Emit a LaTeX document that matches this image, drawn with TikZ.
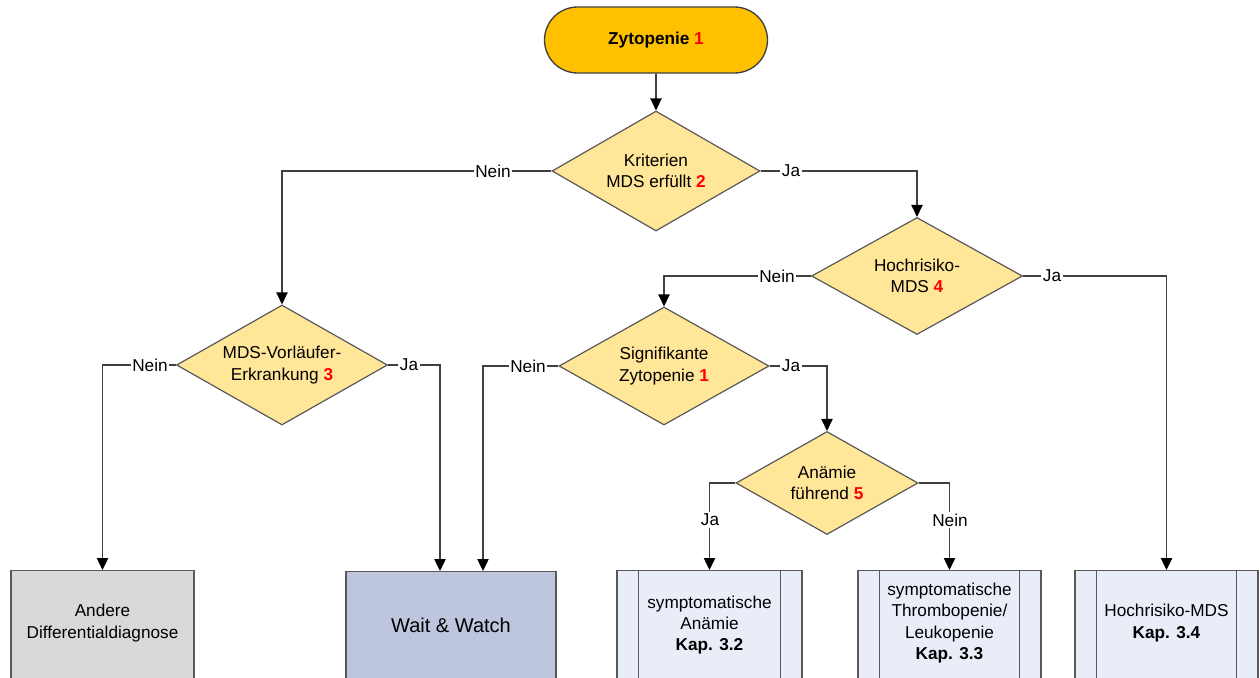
\documentclass[tikz,border=0pt]{standalone}
\usepackage{fontspec}
\setmainfont{Liberation Sans}
\usetikzlibrary{shapes.geometric,arrows.meta,calc}
\definecolor{termfill}{RGB}{255,192,0}
\definecolor{diafill}{RGB}{255,230,153}
\definecolor{grayfill}{RGB}{217,217,217}
\definecolor{wwfill}{RGB}{190,198,222}
\definecolor{subfill}{RGB}{233,237,247}
\definecolor{edgegray}{RGB}{89,89,89}
\definecolor{linegray}{RGB}{64,64,64}
\definecolor{numred}{RGB}{255,0,0}
\newcommand\rednum[1]{\textbf{\textcolor{numred}{#1}}}
\begin{document}
\begin{tikzpicture}[x=0.75pt,y=-0.75pt,
  basefont/.style={font=\fontsize{12.9}{16}\selectfont},
  term/.style={basefont,draw=linegray,line width=1pt,fill=termfill,rectangle,rounded corners=24.75pt,minimum width=167.25pt,minimum height=49.5pt,align=center},
  dia/.style={basefont,draw=edgegray,line width=0.9pt,fill=diafill,diamond,shape aspect=1.75,inner sep=0pt,align=center},
  boxbase/.style={draw=edgegray,line width=1pt,rectangle,minimum height=90pt,anchor=north,inner sep=0pt},
  boxgray/.style={boxbase,fill=grayfill},
  boxww/.style={boxbase,fill=wwfill},
  boxsub/.style={boxbase,fill=subfill},
  txt/.style={basefont,align=center,inner sep=0pt},
  lab/.style={basefont,fill=white,inner sep=1.2pt},
  arr/.style={draw=linegray,line width=1pt,-{Triangle[width=8.5pt,length=9pt,fill=black,color=black]}},
  subline/.style={draw=edgegray,line width=1pt}
]
\useasboundingbox (0,0) rectangle (1260,678);
\fill[white] (0,0) rectangle (1260,678);
\clip (0,0) rectangle (1260,678);

% nodes
\node[term] (start) at (656,40) {\textbf{Zytopenie \textcolor{numred}{1}}};
\node[dia,minimum width=156pt,minimum height=90pt] (d1) at (656,171) {Kriterien\\MDS erfüllt \rednum{2}};
\node[dia,minimum width=158.25pt,minimum height=87.75pt] (d3) at (917,276) {Hochrisiko-\\MDS \rednum{4}};
\node[dia,minimum width=158.25pt,minimum height=90pt] (d2) at (282,365) {MDS-Vorläufer-\\Erkrankung \rednum{3}};
\node[dia,minimum width=157.5pt,minimum height=88.5pt] (d4) at (664,366) {Signifikante\\Zytopenie \rednum{1}};
\node[dia,minimum width=136.5pt,minimum height=77.25pt] (d5) at (827,483) {Anämie\\führend \rednum{5}};

\node[boxgray,minimum width=137.25pt] (b0) at (102.5,570) {};
\node[boxww,minimum width=157.5pt] (ww) at (451,571) {};
\node[boxsub,minimum width=138.75pt] (b1) at (709.5,570) {};
\node[boxsub,minimum width=137.25pt] (b2) at (949.5,570) {};
\node[boxsub,minimum width=137.25pt] (b3) at (1166.5,570) {};

\foreach \b in {b1,b2,b3}{
  \draw[subline] ([xshift=16.5pt]\b.north west) -- ([xshift=16.5pt]\b.south west);
  \draw[subline] ([xshift=-16.5pt]\b.north east) -- ([xshift=-16.5pt]\b.south east);
}

\node[txt] (t0) at (102.5,623) {Andere\\Differentialdiagnose};
\node[txt,font=\fontsize{15}{18}\selectfont] (tww) at (451,625) {Wait \& Watch};
\node[txt] (t1) at (709.5,625) {symptomatische\\Anämie\\\textbf{Kap. 3.2}};
\node[txt] (t2) at (949.5,623) {symptomatische\\Thrombopenie/\\Leukopenie\\\textbf{Kap. 3.3}};
\node[txt] (t3) at (1166.5,623) {Hochrisiko-MDS\\\textbf{Kap. 3.4}};

% connectors
\draw[arr] (start.south) -- (d1.north);
\draw[arr] (d1.west) -| (d2.north);
\draw[arr] (d1.east) -| (d3.north);
\draw[arr] (d3.west) -| (d4.north);
\draw[arr] (d3.east) -| (b3.north);
\draw[arr] (d2.west) -| (b0.north);
\draw[arr] (d2.east) -| ([xshift=-8.25pt]ww.north);
\draw[arr] (d4.west) -| ([xshift=24pt]ww.north);
\draw[arr] (d4.east) -| (d5.north);
\draw[arr] (d5.west) -| (b1.north);
\draw[arr] (d5.east) -| (b2.north);

% labels
\node[lab] (l1) at (493,171) {Nein};
\node[lab] (l2) at (791,171) {Ja};
\node[lab] (l3) at (777,276) {Nein};
\node[lab] (l4) at (1052,276) {Ja};
\node[lab] (l5) at (150,365) {Nein};
\node[lab] (l6) at (409,365) {Ja};
\node[lab] (l7) at (528,366) {Nein};
\node[lab] (l8) at (791,366) {Ja};
\node[lab] (l9) at (710,520) {Ja};
\node[lab] (l10) at (950,520) {Nein};
\end{tikzpicture}
\end{document}
